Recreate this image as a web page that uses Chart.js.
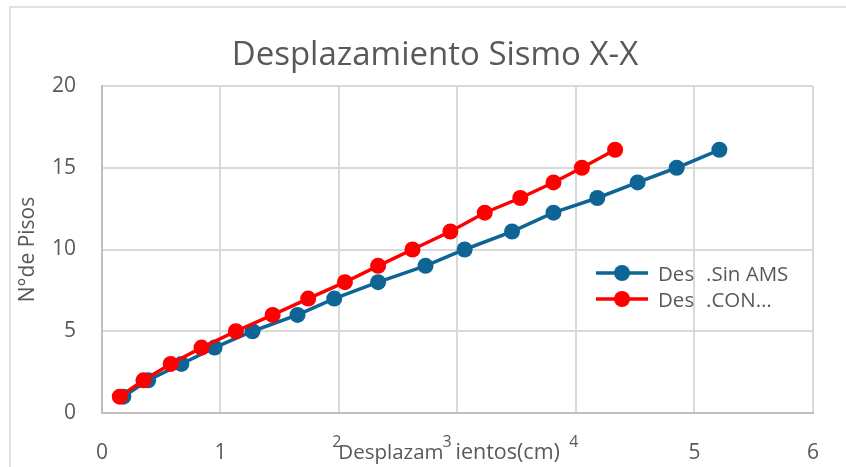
<!DOCTYPE html>
<html><head><meta charset="utf-8">
<script src="https://cdn.jsdelivr.net/npm/chart.js@4.4.0/dist/chart.umd.min.js"></script>
<style>html,body{margin:0;padding:0;background:#fff;} canvas{display:block;}</style>
</head><body>
<canvas id="c" width="846" height="467"></canvas>
<script>
const chartTitle = "Desplazamiento Sismo X-X";
const xAxisTitle = "Desplazamientos(cm)";
const yAxisTitle = "N°de Pisos";
const xTicks = [0, 1, 2, 3, 4, 5, 6];
const yTicks = [0, 5, 10, 15, 20];
const floors = [1, 2, 3, 4, 5, 6, 7, 8, 9, 10, 11.1, 12.25, 13.15, 14.1, 15, 16.1];
const desplSinAMS = [0.18, 0.39, 0.67, 0.95, 1.27, 1.65, 1.96, 2.33, 2.73, 3.06, 3.46, 3.81, 4.18, 4.52, 4.85, 5.21];
const desplConAMS = [0.15, 0.35, 0.58, 0.84, 1.13, 1.44, 1.74, 2.05, 2.33, 2.62, 2.94, 3.23, 3.53, 3.81, 4.05, 4.33];
const seriesNames = ["Des .Sin AMS", "Des .CON…"];
const seriesColors = ["#0F6496", "#FF0000"];

const FONT = "'Open Sans', 'Liberation Sans', sans-serif";
const TEXT = "#595959";

function pts(xs) { return xs.map((x, i) => ({ x: x, y: floors[i] })); }
function isSmall(v) { return v >= 2 && v <= 4; }

const frame = {
  id: 'frame',
  beforeDraw(chart) {
    const ctx = chart.ctx;
    ctx.save();
    ctx.fillStyle = '#fff';
    ctx.fillRect(0, 0, chart.width, chart.height);
    ctx.strokeStyle = '#D9D9D9';
    ctx.lineWidth = 1.5;
    ctx.strokeRect(10, 7, 900, 500);
    ctx.restore();
  }
};

const titlePlugin = {
  id: 'mainTitle',
  afterDraw(chart) {
    const ctx = chart.ctx;
    ctx.save();
    ctx.font = "33px " + FONT;
    ctx.fillStyle = TEXT;
    ctx.textAlign = 'center';
    ctx.textBaseline = 'middle';
    ctx.fillText(chartTitle, 435, 56);
    ctx.restore();
  }
};

const xTitlePlugin = {
  id: 'xTitle',
  afterDraw(chart) {
    const ctx = chart.ctx;
    const xs = chart.scales.x;
    const cut = 9;
    const p3 = xs.getPixelForValue(3);
    ctx.save();
    ctx.font = "20.5px " + FONT;
    ctx.fillStyle = TEXT;
    ctx.textBaseline = 'alphabetic';
    ctx.textAlign = 'right';
    ctx.fillText(xAxisTitle.slice(0, cut), p3 - 14, 459);
    ctx.textAlign = 'left';
    ctx.font = "21.5px " + FONT;
    ctx.fillText(xAxisTitle.slice(cut), p3 - 2, 459);
    ctx.restore();
  }
};

const legendPlugin = {
  id: 'customLegend',
  afterDraw(chart) {
    const ctx = chart.ctx;
    ctx.save();
    chart.data.datasets.forEach((ds, i) => {
      const y = 273 + 26 * i;
      ctx.strokeStyle = ds.borderColor;
      ctx.lineWidth = 3.5;
      ctx.beginPath(); ctx.moveTo(596, y); ctx.lineTo(648, y); ctx.stroke();
      ctx.fillStyle = ds.borderColor;
      ctx.beginPath(); ctx.arc(622, y, 8, 0, Math.PI * 2); ctx.fill();
      const parts = ds.label.split(' ');
      ctx.font = "20.5px " + FONT;
      ctx.fillStyle = TEXT;
      ctx.textBaseline = 'middle';
      ctx.textAlign = 'left';
      ctx.fillText(parts[0], 658, y + 2);
      ctx.fillText(parts.slice(1).join(' '), 706, y + 2);
    });
    ctx.restore();
  }
};

new Chart(document.getElementById('c'), {
  type: 'scatter',
  data: {
    datasets: [
      { label: seriesNames[0], data: pts(desplSinAMS), showLine: true,
        borderColor: seriesColors[0], backgroundColor: seriesColors[0],
        pointBackgroundColor: seriesColors[0], pointBorderColor: seriesColors[0],
        borderWidth: 3.5, pointRadius: 8, pointBorderWidth: 0, order: 1 },
      { label: seriesNames[1], data: pts(desplConAMS), showLine: true,
        borderColor: seriesColors[1], backgroundColor: seriesColors[1],
        pointBackgroundColor: seriesColors[1], pointBorderColor: seriesColors[1],
        borderWidth: 3.5, pointRadius: 8, pointBorderWidth: 0, order: 0 }
    ]
  },
  options: {
    responsive: false,
    animation: false,
    layout: { padding: { left: 0, right: 33, top: 86, bottom: 0 } },
    plugins: {
      legend: { display: false },
      tooltip: { enabled: false },
      title: { display: false }
    },
    scales: {
      x: {
        type: 'linear', min: xTicks[0], max: xTicks[xTicks.length - 1],
        afterBuildTicks(s) { s.ticks = xTicks.map(v => ({ value: v })); },
        afterFit(s) { s.height = 54; },
        grid: { color: '#D9D9D9', lineWidth: 2, drawTicks: false },
        border: { color: '#BFBFBF', width: 2 },
        ticks: {
          padding: 27, color: TEXT, maxRotation: 0, autoSkip: false,
          font: (ctx) => (ctx.tick && isSmall(ctx.tick.value))
            ? { family: FONT, size: 16, lineHeight: 0.35 }
            : { family: FONT, size: 21, lineHeight: 1.2 },
          callback: (v) => v === 3 ? '3     ' : (isSmall(v) ? v + ' ' : String(v))
        }
      },
      y: {
        type: 'linear', min: yTicks[0], max: yTicks[yTicks.length - 1],
        afterBuildTicks(s) { s.ticks = yTicks.map(v => ({ value: v })); },
        afterFit(s) { s.width = 102; },
        grid: { color: '#D9D9D9', lineWidth: 2, drawTicks: false },
        border: { color: '#BFBFBF', width: 2 },
        ticks: { padding: 26, color: TEXT, font: { family: FONT, size: 21 } },
        title: { display: true, text: yAxisTitle, color: TEXT,
          font: { family: FONT, size: 21 }, padding: { top: 15, bottom: 0 } }
      }
    }
  },
  plugins: [frame, titlePlugin, xTitlePlugin, legendPlugin]
});
</script>
</body></html>
